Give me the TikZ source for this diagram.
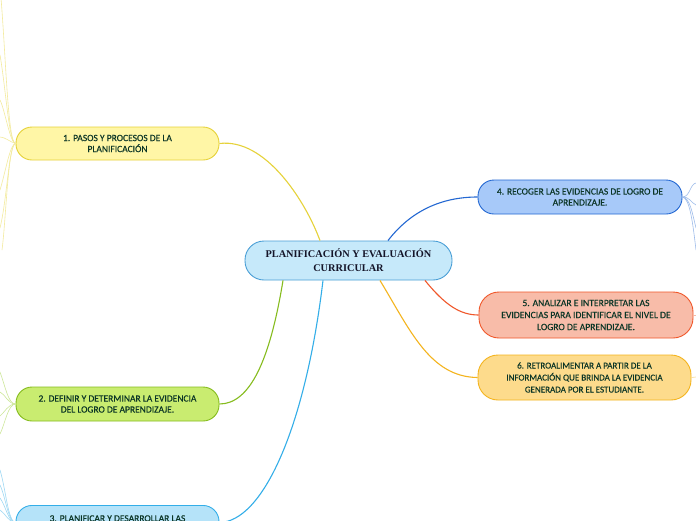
\documentclass[tikz,border=0pt]{standalone}
\usepackage{fontspec}
\setmainfont{Carlito}[FakeBold=0.35]
\newfontfamily\centralfont{Liberation Serif}
\usetikzlibrary{calc}
\definecolor{txt}{HTML}{0B3526}
\definecolor{ctxt}{HTML}{141428}
\definecolor{cfill}{HTML}{C6E9FA}\definecolor{cdraw}{HTML}{4A9FD6}
\definecolor{yfill}{HTML}{FFF6A6}\definecolor{ydraw}{HTML}{E6D23A}\definecolor{ysub}{HTML}{F3EB9E}
\definecolor{gfill}{HTML}{C9EC70}\definecolor{gdraw}{HTML}{86BC1E}\definecolor{gsub}{HTML}{CDE79A}
\definecolor{bfill}{HTML}{B5E3F9}\definecolor{bdraw}{HTML}{33AEE8}\definecolor{bsub}{HTML}{9ED8F3}
\definecolor{dfill}{HTML}{A7C9F9}\definecolor{ddraw}{HTML}{2468D2}\definecolor{dsub}{HTML}{9DBBEA}
\definecolor{rfill}{HTML}{F8BCA9}\definecolor{rdraw}{HTML}{F0572A}\definecolor{rsub}{HTML}{F5B9A5}
\definecolor{ofill}{HTML}{FDDB8C}\definecolor{odraw}{HTML}{F4B41E}\definecolor{osub}{HTML}{F8D98E}
\tikzset{
  topic/.style={draw, line width=0.9pt, rounded corners=16pt, align=center, text=txt,
    font=\fontsize{9.5}{11}\selectfont, inner sep=0pt},
  central/.style={draw, line width=0.9pt, rounded corners=19pt, align=center, text=ctxt,
    font=\centralfont\bfseries\fontsize{10.3}{14}\selectfont, inner sep=0pt,
    fill=cfill, draw=cdraw, minimum width=207pt, minimum height=39pt},
  mainline/.style={line width=1.1pt},
  subline/.style={line width=0.6pt}
}
\begin{document}
\begin{tikzpicture}[x=1pt,y=-1pt]
\useasboundingbox (0,0) rectangle (696,520);
\clip (0,0) rectangle (696,520);
\fill[white] (0,0) rectangle (696,520);

% sub-branch ends
\coordinate (a1) at (1,-2);
\coordinate (a2) at (0,55);
\coordinate (a3) at (0,100);
\coordinate (a4) at (0,137);
\coordinate (a5) at (0,190);
\coordinate (a6) at (0,228);
\coordinate (a7) at (2,250);
\coordinate (b1) at (0,372);
\coordinate (b2) at (0,392);
\coordinate (b3) at (0,416);
\coordinate (b4) at (0,434);
\coordinate (c1) at (0,470);
\coordinate (c2) at (0,485);
\coordinate (c3) at (0,498);
\coordinate (c4) at (0,510);
\coordinate (d1) at (696,183);
\coordinate (d2) at (696,205);
\coordinate (d3) at (696,228);
\coordinate (d4) at (696,250);
\coordinate (e1) at (696,315);
\coordinate (f1) at (696,377);

% nodes
\node[central] (c) at (348.5,260.5) {PLANIFICACIÓN Y EVALUACIÓN\\CURRICULAR};
\node[topic, fill=yfill, draw=ydraw, minimum width=203pt, minimum height=33pt] (t1) at (117.5,143.5)
  {1. PASOS Y PROCESOS DE LA\\PLANIFICACIÓN};
\node[topic, fill=gfill, draw=gdraw, minimum width=203pt, minimum height=34pt] (t2) at (117.5,404)
  {2. DEFINIR Y DETERMINAR LA EVIDENCIA\\DEL LOGRO DE APRENDIZAJE.};
\node[topic, fill=bfill, draw=bdraw, minimum width=203pt, minimum height=34pt, anchor=north] (t3) at (117.5,505)
  {\rule{0pt}{9pt}3. PLANIFICAR Y DESARROLLAR LAS\\\phantom{X}};
\node[topic, fill=dfill, draw=ddraw, minimum width=204pt, minimum height=34pt] (t4) at (580,197)
  {4. RECOGER LAS EVIDENCIAS DE LOGRO DE\\APRENDIZAJE.};
\node[topic, fill=rfill, draw=rdraw, minimum width=214pt, minimum height=46pt, rounded corners=20pt,
  font=\fontsize{9.6}{12}\selectfont] (t5) at (586,315)
  {5. ANALIZAR E INTERPRETAR LAS\\EVIDENCIAS PARA IDENTIFICAR EL NIVEL DE\\LOGRO DE APRENDIZAJE.};
\node[topic, fill=ofill, draw=odraw, minimum width=213pt, minimum height=45pt, rounded corners=20pt,
  font=\fontsize{9}{12}\selectfont] (t6) at (584.5,377.5)
  {6. RETROALIMENTAR A PARTIR DE LA\\INFORMACIÓN QUE BRINDA LA EVIDENCIA\\GENERADA POR EL ESTUDIANTE.};

% main connectors
\draw[mainline, draw=ydraw] (t1.east) .. controls (265,138) and (305,200) .. ($(c.north)+(-28.5,0)$);
\draw[mainline, draw=gdraw] ($(c.south)+(-65.5,0)$) .. controls (270,360) and (250,404) .. (t2.east);
\draw[mainline, draw=bdraw] ($(c.south)+(-25.5,0)$) .. controls (305,430) and (262,522) .. (t3.east);
\draw[mainline, draw=ddraw] ($(c.north)+(39.5,0)$) .. controls (410,212) and (440,197) .. (t4.west);
\draw[mainline, draw=rdraw] ($(c.south)+(76.5,0)$) .. controls (445,305) and (460,315) .. (t5.west);
\draw[mainline, draw=odraw] ($(c.south)+(31.5,0)$) .. controls (410,330) and (430,377) .. (t6.west);

% sub-branches
\draw[subline, draw=ysub] (t1.west) .. controls (8,143) and (6,60) .. (a1);
\draw[subline, draw=ysub] (t1.west) .. controls (9,143) and (6,90) .. (a2);
\draw[subline, draw=ysub] (t1.west) .. controls (10,143) and (5,110) .. (a3);
\draw[subline, draw=ysub] (t1.west) .. controls (10,142) and (5,137) .. (a4);
\draw[subline, draw=ysub] (t1.west) .. controls (10,144) and (6,170) .. (a5);
\draw[subline, draw=ysub] (t1.west) .. controls (9,144) and (7,200) .. (a6);
\draw[subline, draw=ysub] (t1.west) .. controls (8,144) and (6,220) .. (a7);
\draw[subline, draw=gsub] (t2.west) .. controls (8,404) and (5,385) .. (b1);
\draw[subline, draw=gsub] (t2.west) .. controls (8,404) and (5,394) .. (b2);
\draw[subline, draw=gsub] (t2.west) .. controls (8,404) and (5,412) .. (b3);
\draw[subline, draw=gsub] (t2.west) .. controls (8,404) and (5,424) .. (b4);
\draw[subline, draw=bsub] (t3.west) .. controls (8,522) and (6,490) .. (c1);
\draw[subline, draw=bsub] (t3.west) .. controls (8,522) and (6,498) .. (c2);
\draw[subline, draw=bsub] (t3.west) .. controls (8,522) and (6,506) .. (c3);
\draw[subline, draw=bsub] (t3.west) .. controls (8,522) and (6,514) .. (c4);
\draw[subline, draw=dsub] (t4.east) .. controls (690,197) and (690,184) .. (d1);
\draw[subline, draw=dsub] (t4.east) .. controls (690,197) and (690,202) .. (d2);
\draw[subline, draw=dsub] (t4.east) .. controls (690,198) and (692,212) .. (d3);
\draw[subline, draw=dsub] (t4.east) .. controls (690,198) and (693,225) .. (d4);
\draw[subline, draw=rsub] (t5.east) -- (e1);
\draw[subline, draw=osub] (t6.east) -- (f1);
\end{tikzpicture}
\end{document}
